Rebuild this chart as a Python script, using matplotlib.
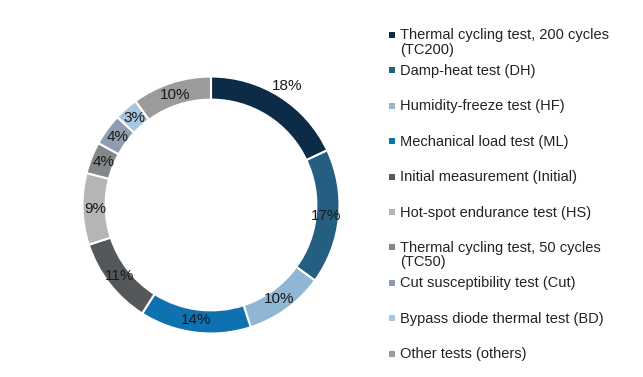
import numpy as np
import matplotlib.pyplot as plt
from matplotlib.patches import Rectangle

plt.rcParams['font.family'] = ['Liberation Sans', 'DejaVu Sans']

# data
labels = ['Thermal cycling test, 200 cycles\n(TC200)', 'Damp-heat test (DH)',
          'Humidity-freeze test (HF)', 'Mechanical load test (ML)',
          'Initial measurement (Initial)', 'Hot-spot endurance test (HS)',
          'Thermal cycling test, 50 cycles\n(TC50)', 'Cut susceptibility test (Cut)',
          'Bypass diode thermal test (BD)', 'Other tests (others)']
shares = [18, 17, 10, 14, 11, 9, 4, 4, 3, 10]
colors = ['#0b2b47', '#245f82', '#8fb6d2', '#1071b0', '#55585b',
          '#b5b5b5', '#85888b', '#8f9db0', '#a9c6df', '#9b9b9b']

W, H = 643, 377
fig = plt.figure(figsize=(W / 100, H / 100), dpi=100)

cx, cy, r = 211, 377 - 205, 128.5
ax = fig.add_axes([(cx - r) / W, (cy - r) / H, 2 * r / W, 2 * r / H])
wedges, texts = ax.pie(shares, colors=colors, startangle=90, counterclock=False,
                       radius=1, wedgeprops=dict(width=0.18, edgecolor='white', linewidth=1.5))
for w, s in zip(wedges, shares):
    ang = np.deg2rad((w.theta1 + w.theta2) / 2)
    d = 1.1 if s == 18 else 0.9
    ax.text(d * np.cos(ang), d * np.sin(ang), f'{s}%', ha='center', va='center',
            fontsize=11, color='#1a1a1a')
ax.set_xlim(-1, 1)
ax.set_ylim(-1, 1)
ax.axis('off')

# legend drawn by hand (fixed row pitch as in the source)
y0, step = 35, 35.4
for i, (lab, c) in enumerate(zip(labels, colors)):
    y = y0 + i * step
    fig.patches.append(Rectangle((389 / W, 1 - (y + 3) / H), 6 / W, 6 / H,
                                 transform=fig.transFigure, facecolor=c, edgecolor='none'))
    fig.text(400 / W, 1 - (y - 6.5) / H, lab, ha='left', va='top', fontsize=10.5,
             color='#222222', linespacing=1.05)

fig.savefig('out.png', dpi=100)
